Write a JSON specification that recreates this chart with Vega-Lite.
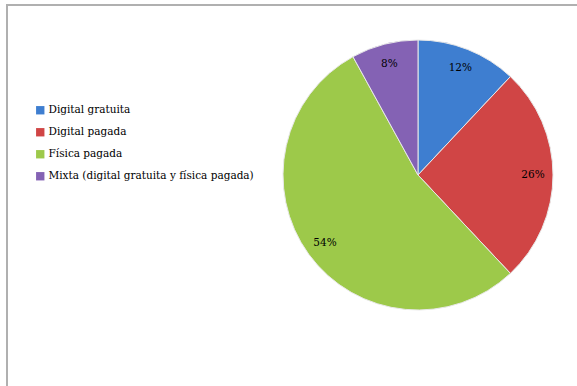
{
  "$schema": "https://vega.github.io/schema/vega-lite/v6.json",
  "autosize": "none",
  "padding": {"left": 7, "top": 5, "right": 0, "bottom": 0},
  "width": 600,
  "height": 400,
  "background": "white",
  "view": {"stroke": "#b0b0b0", "strokeWidth": 2, "fill": "white"},
  "config": {
    "font": "DejaVu Serif"
  },
  "data": {
    "values": [
      {"categoria": "Digital gratuita", "valor": 12, "orden": 1, "etiqueta": "12%"},
      {"categoria": "Digital pagada", "valor": 26, "orden": 2, "etiqueta": "26%"},
      {"categoria": "Física pagada", "valor": 54, "orden": 3, "etiqueta": "54%"},
      {"categoria": "Mixta (digital gratuita y física pagada)", "valor": 8, "orden": 4, "etiqueta": "8%"}
    ]
  },
  "encoding": {
    "theta": {"field": "valor", "type": "quantitative", "stack": true},
    "order": {"field": "orden", "type": "quantitative"},
    "color": {
      "field": "categoria",
      "type": "nominal",
      "scale": {
        "domain": ["Digital gratuita", "Digital pagada", "Física pagada", "Mixta (digital gratuita y física pagada)"],
        "range": ["#3e7ed0", "#d04545", "#9dc94a", "#8462b4"]
      },
      "legend": {
        "title": null,
        "orient": "none",
        "legendX": 28,
        "legendY": 100,
        "symbolType": "square",
        "symbolSize": 70,
        "symbolStrokeWidth": 0,
        "symbolOpacity": 1,
        "labelFont": "DejaVu Serif",
        "labelFontSize": 10.5,
        "labelColor": "#000000",
        "labelOffset": 3,
        "rowPadding": 11,
        "labelLimit": 400
      }
    }
  },
  "layer": [
    {
      "mark": {
        "type": "arc",
        "x": {"expr": "width*0.685"},
        "y": {"expr": "height*0.425"},
        "outerRadius": 135,
        "stroke": "#e8e8e8",
        "strokeWidth": 1
      }
    },
    {
      "mark": {
        "type": "text",
        "x": {"expr": "width*0.685"},
        "y": {"expr": "height*0.425"},
        "radius": 115,
        "font": "DejaVu Serif",
        "fontSize": 10.5,
        "fill": "#000000"
      },
      "encoding": {
        "text": {"field": "etiqueta", "type": "nominal"},
        "color": {"value": "#000000"}
      }
    }
  ]
}
